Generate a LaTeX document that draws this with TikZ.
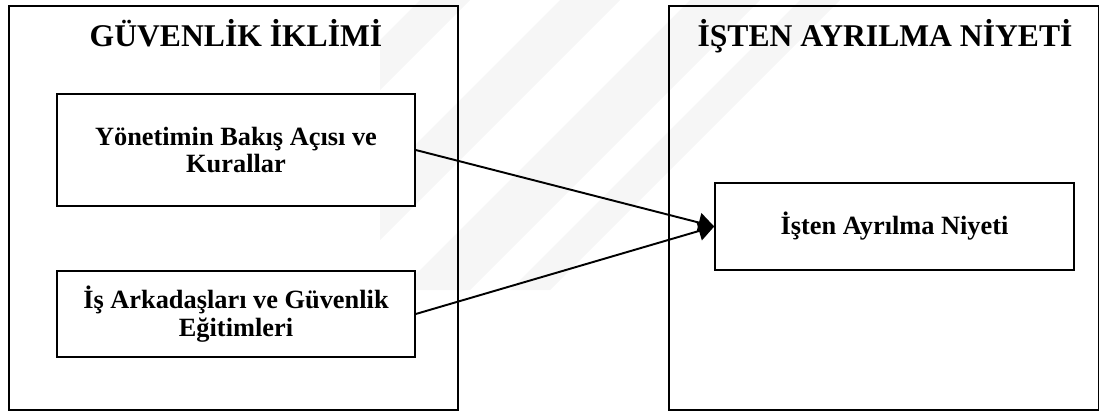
\documentclass[tikz,border=0pt]{standalone}
\usepackage{fontspec}
\setmainfont{Liberation Serif}
\usepackage{tikz}
\usetikzlibrary{arrows.meta,positioning}

\begin{document}
\begin{tikzpicture}[x=0.02cm, y=-0.02cm,
      big/.style={draw, line width=1pt, anchor=north west, inner sep=0pt},
      box/.style={draw, line width=0.9pt, fill=white, align=center, inner sep=0pt,
                  font=\bfseries\fontsize{15}{15.8}\selectfont, minimum width=7.16cm},
      head/.style={anchor=base, inner sep=0pt, font=\bfseries\fontsize{18}{20}\selectfont},
      ar/.style={-{Triangle[length=9pt, width=11pt]}, line width=1.1pt},
      band/.style={fill=gray!7, draw=none}
    ]
    \useasboundingbox (0,0) rectangle (1099,412);
    % watermark stripes
    \begin{scope}
      \clip (380,0) rectangle (860,295);
      \fill[band] (420,0) -- (470,0) -- (180,290) -- (130,290) -- cycle;
      \fill[band] (560,0) -- (620,0) -- (330,290) -- (270,290) -- cycle;
      \fill[band] (690,0) -- (760,0) -- (470,290) -- (400,290) -- cycle;
      \fill[band] (800,0) -- (840,0) -- (550,290) -- (510,290) -- cycle;
    \end{scope}
    \node[big, minimum width=8.98cm, minimum height=8.08cm] (gi) at (8,5) {};
    \node[big, minimum width=8.60cm, minimum height=8.08cm] (ian) at (668,5) {};
    \node[head] (gihead)  at (236,47) {GÜVENLİK İKLİMİ};
    \node[head] (ianhead) at (885,47) {İŞTEN AYRILMA NİYETİ};
    \node[box, minimum height=2.24cm] (yon) at (236,150) {Yönetimin Bakış Açısı ve\\Kurallar};
    \node[box, minimum height=1.72cm] (isa) at (236,314) {İş Arkadaşları ve Güvenlik\\Eğitimleri};
    \node[box, minimum height=1.74cm, minimum width=7.18cm] (niy) at (894.5,226.5) {İşten Ayrılma Niyeti};
    \draw[ar] (yon.east) -- (niy.west);
    \draw[ar] (isa.east) -- (niy.west);
  \end{tikzpicture}
\end{document}
